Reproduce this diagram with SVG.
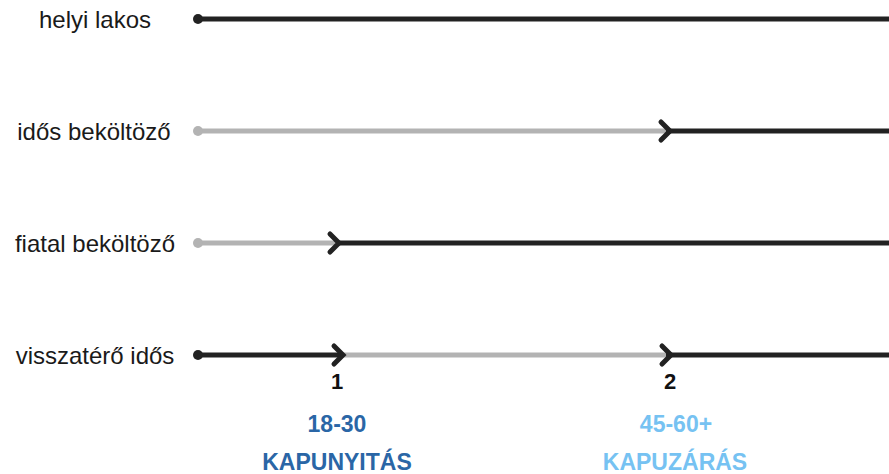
<svg xmlns="http://www.w3.org/2000/svg" width="889" height="474" viewBox="0 0 889 474">
<style>
.lbl{font-family:"Liberation Sans",Arial,sans-serif;font-size:24px;fill:#1a1a1a;text-anchor:middle}
.num{font-family:"Liberation Sans",Arial,sans-serif;font-size:22px;font-weight:bold;fill:#111;text-anchor:middle}
.age{font-family:"Liberation Sans",Arial,sans-serif;font-size:23px;font-weight:bold;text-anchor:middle}
.blk{stroke:#222;stroke-width:5;fill:none}
.gry{stroke:#b3b3b3;stroke-width:5;fill:none}
.chev{stroke:#222;stroke-width:5;fill:none;stroke-linecap:round;stroke-linejoin:miter}
</style>
<rect width="889" height="474" fill="#fff"/>
<g id="row-helyi">
<text class="lbl" x="95" y="28">helyi lakos</text>
</g>
<g id="row-idos">
<text class="lbl" x="94" y="140">idős beköltöző</text>
</g>
<g id="row-fiatal">
<text class="lbl" x="95" y="252">fiatal beköltöző</text>
</g>
<g id="row-visszatero">
<text class="lbl" x="95" y="364">visszatérő idős</text>
</g>
<g id="connectors">
<line class="blk" x1="198" y1="19" x2="889" y2="19"/>
<circle cx="198" cy="19" r="5" fill="#222"/>

<line class="gry" x1="198" y1="131" x2="668" y2="131"/>
<line class="blk" x1="666" y1="131" x2="889" y2="131"/>
<circle cx="198" cy="131" r="5" fill="#b3b3b3"/>
<polyline class="chev" points="661,122 670,131 661,140"/>

<line class="gry" x1="198" y1="243" x2="338" y2="243"/>
<line class="blk" x1="336" y1="243" x2="889" y2="243"/>
<circle cx="198" cy="243" r="5" fill="#b3b3b3"/>
<polyline class="chev" points="330,234 339,243 330,252"/>

<line class="gry" x1="340" y1="355" x2="668" y2="355"/>
<line class="blk" x1="198" y1="355" x2="341" y2="355"/>
<line class="blk" x1="666" y1="355" x2="889" y2="355"/>
<circle cx="198" cy="355" r="5" fill="#222"/>
<polyline class="chev" points="334,346 343,355 334,364"/>
<polyline class="chev" points="662,346 671,355 662,364"/>
</g>
<g id="marker-1">
<text class="num" x="337" y="389">1</text>
<text class="age" x="337" y="432" fill="#2a66a6">18-30</text>
<text class="age" x="337" y="470" fill="#2a66a6">KAPUNYITÁS</text>
</g>
<g id="marker-2">
<text class="num" x="670" y="389">2</text>
<text class="age" x="676" y="432" fill="#76c2f2">45-60+</text>
<text class="age" x="675" y="470" fill="#76c2f2">KAPUZÁRÁS</text>
</g>
</svg>
